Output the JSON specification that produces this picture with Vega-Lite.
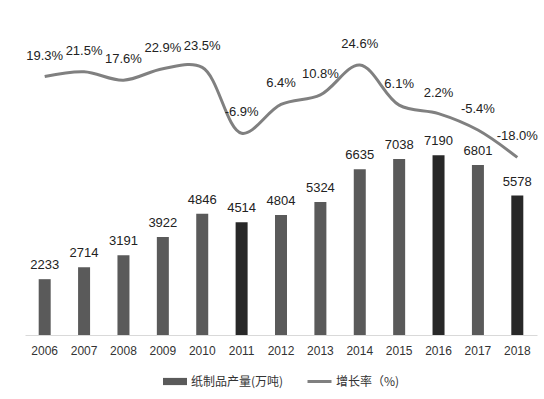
{
  "$schema": "https://vega.github.io/schema/vega-lite/v6.json",
  "width": 512,
  "height": 325,
  "autosize": {"type": "none"},
  "padding": {"left": 25, "top": 10, "right": 7, "bottom": 64},
  "background": "white",
  "config": {
    "view": {"stroke": null},
    "font": "Liberation Sans",
    "legend": {"layout": {"bottom": {"anchor": "middle", "direction": "horizontal", "center": true, "margin": 22}}}
  },
  "data": {
    "values": [
      {"year": "2006", "output": 2233, "growth": 19.3, "label": "19.3%"},
      {"year": "2007", "output": 2714, "growth": 21.5, "label": "21.5%"},
      {"year": "2008", "output": 3191, "growth": 17.6, "label": "17.6%"},
      {"year": "2009", "output": 3922, "growth": 22.9, "label": "22.9%"},
      {"year": "2010", "output": 4846, "growth": 23.5, "label": "23.5%"},
      {"year": "2011", "output": 4514, "growth": -6.9, "label": "-6.9%"},
      {"year": "2012", "output": 4804, "growth": 6.4, "label": "6.4%"},
      {"year": "2013", "output": 5324, "growth": 10.8, "label": "10.8%"},
      {"year": "2014", "output": 6635, "growth": 24.6, "label": "24.6%"},
      {"year": "2015", "output": 7038, "growth": 6.1, "label": "6.1%"},
      {"year": "2016", "output": 7190, "growth": 2.2, "label": "2.2%"},
      {"year": "2017", "output": 6801, "growth": -5.4, "label": "-5.4%"},
      {"year": "2018", "output": 5578, "growth": -18.0, "label": "-18.0%"}
    ]
  },
  "encoding": {
    "x": {
      "field": "year",
      "type": "ordinal",
      "title": null,
      "scale": {"paddingInner": 0, "paddingOuter": 0},
      "axis": {
        "labelAngle": 0,
        "labelFontSize": 12,
        "labelColor": "#333333",
        "labelPadding": 10,
        "ticks": false,
        "domainColor": "#d9d9d9",
        "domainWidth": 1
      }
    }
  },
  "layer": [
    {
      "mark": {"type": "bar", "width": 12},
      "encoding": {
        "y": {"field": "output", "type": "quantitative", "scale": {"domain": [0, 13000]}, "axis": null},
        "fill": {
          "datum": "纸制品产量(万吨)",
          "scale": {"range": ["#5a5a5a"]},
          "condition": {"test": "indexof(['2011','2016','2018'], datum.year) >= 0", "value": "#282828"},
          "legend": {"orient": "bottom", "title": null, "symbolType": "M-1,-0.3H1V0.3H-1Z", "symbolSize": 576, "labelOffset": 3, "labelFontSize": 12, "labelColor": "#333333", "labelFont": "Noto Sans CJK SC", "offset": 12}
        }
      }
    },
    {
      "mark": {"type": "text", "baseline": "bottom", "dy": -7, "fontSize": 13, "color": "#222222"},
      "encoding": {
        "y": {"field": "output", "type": "quantitative", "scale": {"domain": [0, 13000]}, "axis": null},
        "text": {"field": "output", "type": "quantitative"}
      }
    },
    {
      "mark": {"type": "line", "interpolate": "catmull-rom", "strokeWidth": 3},
      "encoding": {
        "y": {"field": "growth", "type": "quantitative", "scale": {"domain": [-100, 50]}, "axis": null},
        "stroke": {
          "datum": "增长率（%)",
          "scale": {"range": ["#808080"]},
          "legend": {"orient": "bottom", "title": null, "symbolType": "stroke", "symbolStrokeWidth": 3, "symbolSize": 576, "labelOffset": 3, "labelFontSize": 12, "labelColor": "#333333", "labelFont": "Noto Sans CJK SC", "offset": 12}
        }
      }
    },
    {
      "mark": {"type": "text", "baseline": "middle", "dy": -21, "fontSize": 13, "color": "#222222"},
      "encoding": {
        "y": {"field": "growth", "type": "quantitative", "scale": {"domain": [-100, 50]}, "axis": null},
        "text": {"field": "label", "type": "nominal"}
      }
    }
  ],
  "resolve": {"scale": {"y": "independent", "fill": "independent", "stroke": "independent"}}
}
